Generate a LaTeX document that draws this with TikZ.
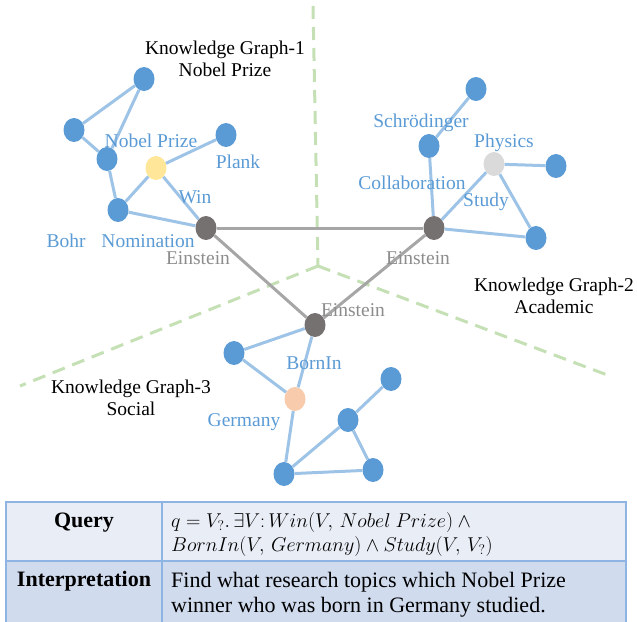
\documentclass[tikz,border=0pt]{standalone}
\usepackage{fix-cm}
\usepackage{fontspec}
\setmainfont{Liberation Serif}
\usetikzlibrary{shapes.geometric}
\definecolor{dashgreen}{HTML}{C5E0B4}
\definecolor{edgeblue}{HTML}{9DC3E6}
\definecolor{edgegray}{HTML}{A6A6A6}
\definecolor{nodeblue}{HTML}{5B9BD5}
\definecolor{nodedark}{HTML}{767171}
\definecolor{nodeyellow}{HTML}{FFE699}
\definecolor{nodelight}{HTML}{DADADA}
\definecolor{nodepeach}{HTML}{F8CBAD}
\definecolor{labelgray}{HTML}{8C8C8C}
\definecolor{rowone}{HTML}{E9EDF6}
\definecolor{rowtwo}{HTML}{D0DBEE}
\definecolor{tableborder}{HTML}{8EB4E3}
\tikzset{
  ent/.style={ellipse, draw=none, minimum width=21pt, minimum height=24pt, inner sep=0pt, fill=nodeblue},
  entdark/.style={ent, fill=nodedark},
  entyellow/.style={ent, fill=nodeyellow},
  entlight/.style={ent, fill=nodelight},
  entpeach/.style={ent, fill=nodepeach},
  bedge/.style={draw=edgeblue, line width=3pt},
  gedge/.style={draw=edgegray, line width=3pt},
  divider/.style={draw=dashgreen, line width=3pt, dash pattern=on 13pt off 8pt},
  blab/.style={text=nodeblue, inner sep=0pt, font=\fontsize{19.5}{22}\selectfont},
  glab/.style={text=labelgray, inner sep=0pt, font=\fontsize{19.5}{22}\selectfont},
  title/.style={text=black, inner sep=0pt, align=center, font=\fontsize{19.5}{22.5}\selectfont},
  cellhead/.style={text=black, inner sep=0pt, font=\fontsize{22}{25}\selectfont\bfseries},
  celltext/.style={text=black, inner sep=0pt, anchor=west, align=left},
}
\begin{document}
\begin{tikzpicture}[x=1pt,y=-1pt]
\useasboundingbox (0,0) rectangle (637,621);
% dividers
\coordinate (jn) at (318,266);
\coordinate (dtop) at (313,6);
\coordinate (dleft) at (20,386);
\coordinate (dright) at (610,376);
\draw[divider] (dtop) -- (jn);
\draw[divider] (jn) -- (dleft);
\draw[divider] (jn) -- (dright);
% nodes
\node[ent] (a1) at (144,79) {};
\node[ent] (a2) at (74,130) {};
\node[ent] (a3) at (107,159) {};
\node[entyellow] (np) at (156,168) {};
\node[ent] (pl) at (226,135) {};
\node[ent] (bo) at (118,210) {};
\node[entdark] (e1) at (206,228) {};
\node[ent] (b1) at (476,89) {};
\node[ent] (sc) at (429,146) {};
\node[entlight] (ph) at (494,164) {};
\node[ent] (b2) at (556,166) {};
\node[entdark] (e2) at (434,228) {};
\node[ent] (b3) at (536,238) {};
\node[entdark] (e3) at (315,325) {};
\node[ent] (c1) at (234,353) {};
\node[entpeach] (ge) at (295,399) {};
\node[ent] (c2) at (284,474) {};
\node[ent] (c3) at (348,420) {};
\node[ent] (c4) at (391,379) {};
\node[ent] (c5) at (373,470) {};
% edges
\path[bedge] (a1) -- (a2);
\path[bedge] (a1) -- (a3);
\path[bedge] (a2) -- (a3);
\path[bedge] (a3) -- (bo);
\path[bedge] (bo) -- (np);
\path[bedge] (np) -- (pl);
\path[bedge] (np) -- (e1);
\path[bedge] (bo) -- (e1);
\path[bedge] (b1) -- (sc);
\path[bedge] (sc) -- (e2);
\path[bedge] (e2) -- (ph);
\path[bedge] (ph) -- (b2);
\path[bedge] (ph) -- (b3);
\path[bedge] (e2) -- (b3);
\path[bedge] (e3) -- (c1);
\path[bedge] (c1) -- (ge);
\path[bedge] (e3) -- (ge);
\path[bedge] (ge) -- (c2);
\path[bedge] (c2) -- (c3);
\path[bedge] (c3) -- (c4);
\path[bedge] (c3) -- (c5);
\path[bedge] (c2) -- (c5);
\path[gedge] (e1) -- (e2);
\path[gedge] (e1) -- (e3);
\path[gedge] (e2) -- (e3);
% labels
\node[blab] (lnp) at (151,141) {Nobel Prize};
\node[blab] (lpl) at (238,162) {Plank};
\node[blab] (lwin) at (195,197) {Win};
\node[blab] (lbo) at (66,241) {Bohr};
\node[blab] (lnom) at (148,241) {Nomination};
\node[glab] (le1) at (198,258) {Einstein};
\node[blab] (lsc) at (421,123) {Schrödinger};
\node[blab] (lph) at (504,143) {Physics};
\node[blab] (lcol) at (412,183) {Collaboration};
\node[blab] (lst) at (486,202) {Study};
\node[glab] (le2) at (418,258) {Einstein};
\node[glab] (le3) at (353,310) {Einstein};
\node[blab] (lbi) at (314,363) {BornIn};
\node[blab] (lge) at (244,422) {Germany};
\node[title] (kg1) at (225,59) {Knowledge Graph-1\\Nobel Prize};
\node[title] (kg2) at (554,296) {Knowledge Graph-2\\Academic};
\node[title] (kg3) at (131,398) {Knowledge Graph-3\\Social};
% table
\path[fill=rowone] (6,502) rectangle (626,561);
\path[fill=rowtwo] (6,561) rectangle (626,630);
\draw[tableborder, line width=2pt] (6,630) -- (6,502) -- (626,502) -- (626,630);
\draw[tableborder, line width=2pt] (6,561) -- (626,561);
\draw[tableborder, line width=2pt] (162,502) -- (162,630);
\node[cellhead] (qh) at (84,523) {Query};
\node[cellhead] (ih) at (84,581) {Interpretation};
\node[celltext, font=\fontsize{20}{24.5}\selectfont] (qtext) at (171,534.5)
  {$q = V_?.\,\exists V\colon Win(V,\, Nobel\ Prize) \wedge{}$\\
   $BornIn(V,\, Germany) \wedge Study(V,\, V_?)$};
\node[celltext, font=\fontsize{22}{25}\selectfont] (itext) at (171,595)
  {Find what research topics which Nobel Prize\\winner who was born in Germany studied.};
\end{tikzpicture}
\end{document}
